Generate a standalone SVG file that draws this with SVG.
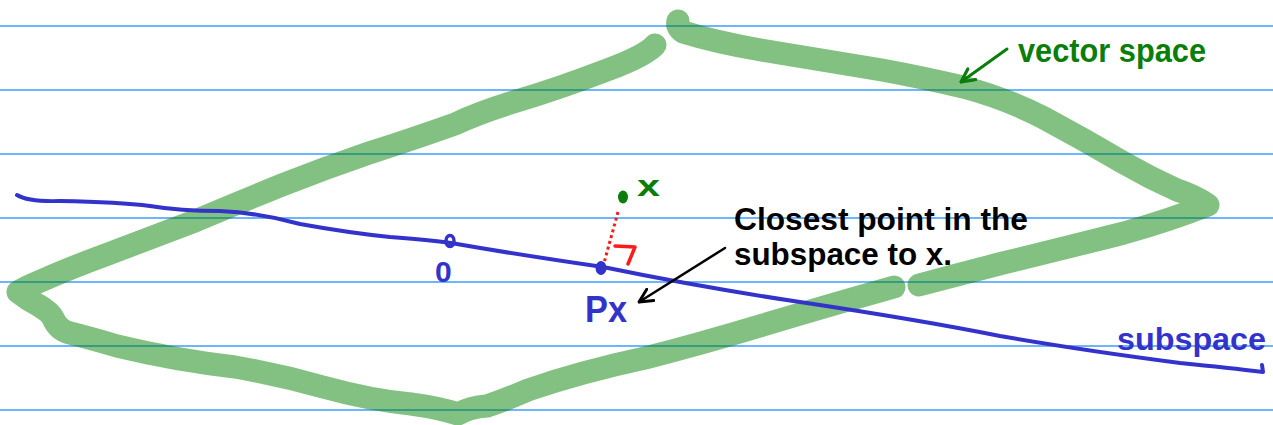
<svg xmlns="http://www.w3.org/2000/svg" width="1273" height="425" viewBox="0 0 1273 425">
<defs>
<style>
.rule{stroke:#3d9dff;stroke-width:1.4;fill:none}
.vs{stroke:#008000;stroke-opacity:0.49;stroke-width:23;fill:none;stroke-linecap:round;stroke-linejoin:round}
.sub{stroke:#3333cc;stroke-width:4;fill:none;stroke-linecap:round;stroke-linejoin:round}
.hand{font-family:"Liberation Sans Narrow","Liberation Sans",sans-serif;font-weight:bold}
.blk{fill:#000}
.grn{fill:#0a7d0a}
.blu{fill:#3333cc}
</style>
<marker id="ahBlack" viewBox="0 0 12 12" refX="11" refY="6" markerWidth="16" markerHeight="16" markerUnits="userSpaceOnUse" orient="auto">
<path d="M1,1 L11,6 L1,11" fill="none" stroke="#000" stroke-width="2.2" stroke-linecap="round" stroke-linejoin="round"/>
</marker>
<marker id="ahGreen" viewBox="0 0 12 12" refX="11" refY="6" markerWidth="16" markerHeight="16" markerUnits="userSpaceOnUse" orient="auto">
<path d="M1,1 L11,6 L1,11" fill="none" stroke="#0a7d0a" stroke-width="2.4" stroke-linecap="round" stroke-linejoin="round"/>
</marker>
</defs>
<rect width="1273" height="425" fill="#fff"/>
<g id="ruled-lines">
<line class="rule" x1="0" y1="26" x2="1273" y2="26"/>
<line class="rule" x1="0" y1="90" x2="1273" y2="90"/>
<line class="rule" x1="0" y1="154" x2="1273" y2="154"/>
<line class="rule" x1="0" y1="218" x2="1273" y2="218"/>
<line class="rule" x1="0" y1="282" x2="1273" y2="282"/>
<line class="rule" x1="0" y1="346" x2="1273" y2="346"/>
<line class="rule" x1="0" y1="410" x2="1273" y2="410"/>
</g>
<g id="vector-space">
<path class="vs" d="M655,45 Q645,56 607,70 Q560,88 520,100 Q480,112 455,124 Q410,140 369,153 Q325,168 282,185 Q240,202 195,221 Q150,238 108,254 Q70,268 43,280 Q22,289 18,292 Q28,300 38,305 Q50,312 53,318 Q58,330 70,333 Q90,338 117,346 Q175,360 235,367 Q280,375 323,387 Q370,400 411,404 Q440,408 458,414 Q470,407 487,406 Q505,400 528,390 Q580,372 645,358 Q700,344 763,325 Q830,305 894,287"/>
<path class="vs" d="M919,285 Q960,274 1003,263 Q1065,248 1124,233 Q1170,220 1208,205 Q1195,196 1177,190 Q1150,178 1124,163 Q1085,140 1044,118 Q1005,98 963,87 Q925,78 882,70 Q820,60 761,50 Q715,42 683,32 Q676,27 678,21"/>
</g>
<g id="subspace">
<path class="sub" d="M17,195 Q28,202 60,201 Q120,202 150,206 Q180,211 220,211 Q260,213 300,224 Q350,233 390,237 Q430,240 451,243 Q520,255 603,267 Q700,287 800,302 Q920,320 1000,336 Q1080,350 1180,363 Q1230,368 1263,372 L1262,365"/>
</g>
<g id="node-origin">
<ellipse cx="450" cy="241" rx="4" ry="5.5" fill="none" stroke="#3333cc" stroke-width="3.5"/>
<text class="hand blu" x="435" y="282" font-size="30">0</text>
</g>
<g id="node-x">
<ellipse cx="623" cy="197" rx="5" ry="6.5" fill="#0a7d0a"/>
<text class="hand grn" x="637" y="196" font-size="30" textLength="23" lengthAdjust="spacingAndGlyphs">x</text>
</g>
<g id="node-px">
<ellipse cx="601" cy="268" rx="5.5" ry="7" fill="#3333cc"/>
<text class="hand blu" x="585" y="322" font-size="36" textLength="42" lengthAdjust="spacingAndGlyphs">Px</text>
</g>
<g id="right-angle">
<path d="M615,246 L635,247 L628,264" fill="none" stroke="#ff1a1a" stroke-width="3.5" stroke-linecap="round" stroke-linejoin="round"/>
</g>
<g id="label-closest">
<text class="hand blk" x="734" y="230" font-size="31" textLength="294" lengthAdjust="spacingAndGlyphs">Closest point in the</text>
<text class="hand blk" x="734" y="265" font-size="31" textLength="218" lengthAdjust="spacingAndGlyphs">subspace to x.</text>
</g>
<g id="label-vector-space">
<text class="hand grn" x="1018" y="62" font-size="34" textLength="188" lengthAdjust="spacingAndGlyphs">vector space</text>
</g>
<g id="label-subspace">
<text class="hand blu" x="1117" y="350" font-size="32" textLength="149" lengthAdjust="spacingAndGlyphs">subspace</text>
</g>
<g id="connectors">
<line x1="618" y1="212" x2="604" y2="263" stroke="#ff1a1a" stroke-width="3" stroke-dasharray="3,3"/>
<line x1="725" y1="248" x2="639" y2="302" stroke="#000" stroke-width="2.5" stroke-linecap="round" marker-end="url(#ahBlack)"/>
<line x1="1007" y1="49" x2="961" y2="82" stroke="#0a7d0a" stroke-width="3" stroke-linecap="round" marker-end="url(#ahGreen)"/>
</g>
</svg>
